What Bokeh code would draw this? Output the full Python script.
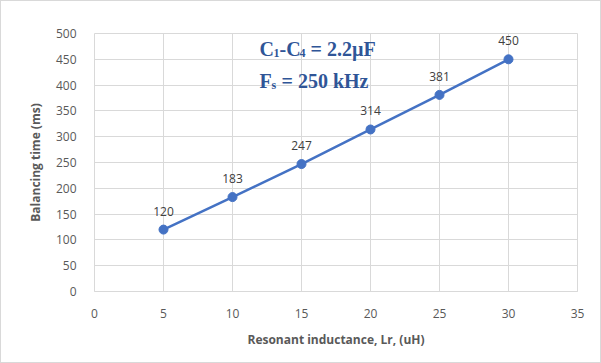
from bokeh.plotting import figure
from bokeh.models import ColumnDataSource, Label, FixedTicker, Range1d
from bokeh.core.properties import value
from bokeh.embed import file_html
from bokeh.resources import INLINE

# Balancing time versus resonant inductance
inductance_uh = [5, 10, 15, 20, 25, 30]
balancing_ms = [120, 183, 247, 314, 381, 450]
x_ticks = [0, 5, 10, 15, 20, 25, 30, 35]
y_ticks = [0, 50, 100, 150, 200, 250, 300, 350, 400, 450, 500]

source = ColumnDataSource(data=dict(
    x=inductance_uh,
    y=balancing_ms,
    label=[str(v) for v in balancing_ms],
))

LINE = "#4472C4"
GRID = "#d9d9d9"
TXT = "#595959"
FONT = "Open Sans"

p = figure(width=601, height=363, output_backend="svg", toolbar_location=None,
           x_range=Range1d(0, 35), y_range=Range1d(0, 500),
           min_border_left=93, min_border_right=25,
           min_border_top=32, min_border_bottom=73)
p.outline_line_color = GRID
p.background_fill_color = "white"
p.border_fill_color = "white"

p.line("x", "y", source=source, line_color=LINE, line_width=2.5)
p.scatter("x", "y", source=source, size=9, fill_color=LINE, line_color=LINE)
p.text("x", "y", text="label", source=source, y_offset=-14,
       text_align="center", text_baseline="bottom",
       text_font_size="12px", text_color="#404040", text_font=value(FONT))

for ax in (p.xaxis[0], p.yaxis[0]):
    ax.axis_line_color = GRID
    ax.major_tick_line_color = None
    ax.minor_tick_line_color = None
    ax.major_label_text_color = TXT
    ax.major_label_text_font = FONT
    ax.major_label_text_font_size = "12px"
    ax.axis_label_text_color = TXT
    ax.axis_label_text_font = FONT
    ax.axis_label_text_font_size = "12px"
    ax.axis_label_text_font_style = "bold"

p.xaxis.ticker = FixedTicker(ticks=x_ticks)
p.yaxis.ticker = FixedTicker(ticks=y_ticks)
p.xaxis.axis_label = "Resonant inductance, Lr, (uH)"
p.yaxis.axis_label = "Balancing time (ms)"
p.xaxis.major_label_standoff = 11
p.yaxis.major_label_standoff = 12
p.xaxis.axis_label_standoff = 10
p.yaxis.axis_label_standoff = 9
p.yaxis.axis_line_color = None

p.xgrid.grid_line_color = GRID
p.ygrid.grid_line_color = GRID
p.xgrid.ticker = FixedTicker(ticks=x_ticks)
p.ygrid.ticker = FixedTicker(ticks=y_ticks)

# Annotation: component values, with subscripts built from smaller pieces
BLUE = "#2F5597"
SERIF = "Liberation Serif"

def note(pieces, x0, y0):
    x = x0
    for text, size, dy, width in pieces:
        p.add_layout(Label(x=x, y=y0 + dy, x_units="screen", y_units="screen",
                           text=text, text_font=SERIF, text_font_style="bold",
                           text_font_size=size, text_color=BLUE,
                           text_baseline="alphabetic"))
        x += width

note([("C", "20px", 0, 14), ("1", "12px", -4, 6), ("-C", "20px", 0, 20),
      ("4", "12px", -4, 11), ("= 2.2\u00b5F", "20px", 0, 0)], 165, 243)
note([("F", "20px", 0, 12), ("s", "12px", -4, 10), ("= 250 kHz", "20px", 0, 0)],
     165, 211)

p.styles = {"border": "1px solid #d9d9d9"}

open("out.html", "w").write(file_html(p, INLINE))
